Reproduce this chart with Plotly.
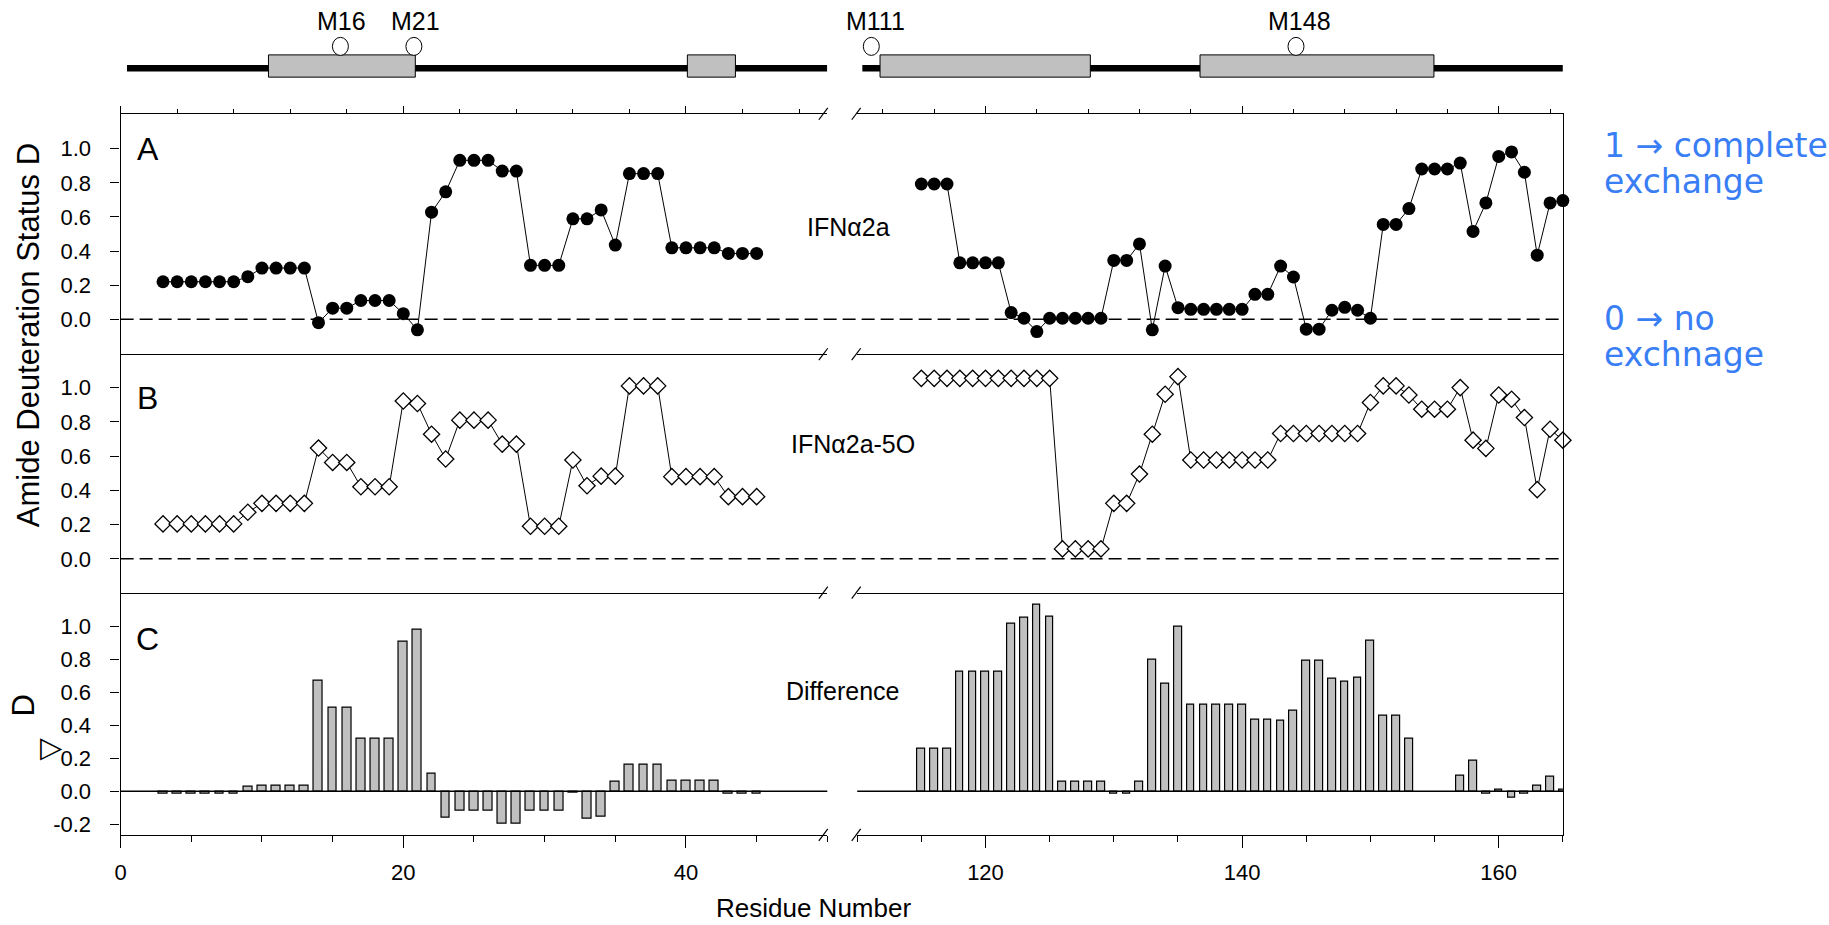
import plotly.graph_objects as go

W, H = 1829, 925


def px_x(p):
    return p / W


def px_y(p):
    return 1 - p / H


# ---------------- data ----------------
res_left = list(range(3, 46))
res_right = list(range(115, 166))

# IFNa2a deuteration status
d_wt_left = [0.22, 0.22, 0.22, 0.22, 0.22, 0.22, 0.25, 0.30, 0.30, 0.30, 0.30,
             -0.02, 0.065, 0.065, 0.11, 0.11, 0.11, 0.033, -0.062, 0.628, 0.747,
             0.932, 0.932, 0.932, 0.869, 0.869, 0.316, 0.316, 0.316, 0.589, 0.589,
             0.641, 0.435, 0.854, 0.854, 0.854, 0.419, 0.419, 0.419, 0.419,
             0.386, 0.386, 0.386]
d_wt_right = [0.793, 0.793, 0.793, 0.331, 0.331, 0.331, 0.331, 0.039, 0.006, -0.072,
              0.006, 0.006, 0.006, 0.006, 0.006, 0.345, 0.345, 0.442, -0.062, 0.312,
              0.068, 0.058, 0.058, 0.058, 0.058, 0.058, 0.146, 0.146, 0.312, 0.248,
              -0.058, -0.058, 0.053, 0.07, 0.053, 0.006, 0.556, 0.556, 0.649, 0.881,
              0.881, 0.881, 0.916, 0.515, 0.682, 0.955, 0.981, 0.862, 0.376, 0.682,
              0.696]

# IFNa2a-5O deuteration status
d_5o_left = [0.204, 0.204, 0.204, 0.204, 0.204, 0.204, 0.272, 0.324, 0.324, 0.324,
             0.324, 0.647, 0.563, 0.563, 0.421, 0.421, 0.421, 0.922, 0.907, 0.728,
             0.583, 0.810, 0.810, 0.810, 0.670, 0.670, 0.190, 0.190, 0.190, 0.577,
             0.427, 0.483, 0.483, 1.01, 1.01, 1.01, 0.480, 0.480, 0.480, 0.480,
             0.363, 0.363, 0.363]
d_5o_right = [1.054, 1.054, 1.054, 1.054, 1.054, 1.054, 1.054, 1.054, 1.054, 1.054,
              1.054, 0.058, 0.058, 0.058, 0.058, 0.324, 0.324, 0.495, 0.728, 0.961,
              1.064, 0.577, 0.577, 0.577, 0.577, 0.577, 0.577, 0.577, 0.732, 0.732,
              0.732, 0.732, 0.732, 0.732, 0.732, 0.913, 1.01, 1.01, 0.957, 0.874,
              0.874, 0.874, 1.0, 0.693, 0.645, 0.957, 0.932, 0.825, 0.404, 0.757,
              0.693]

# Difference (delta D)
diff_left = [-0.012, -0.012, -0.012, -0.012, -0.012, -0.012, 0.026, 0.032, 0.032,
             0.032, 0.032, 0.673, 0.506, 0.506, 0.319, 0.319, 0.319, 0.905, 0.982,
             0.105, -0.157, -0.117, -0.117, -0.117, -0.194, -0.194, -0.119, -0.119,
             -0.119, -0.006, -0.163, -0.155, 0.058, 0.161, 0.161, 0.161, 0.065,
             0.065, 0.065, 0.065, -0.016, -0.016, -0.016]
diff_right = [0.26, 0.26, 0.26, 0.726, 0.726, 0.726, 0.726, 1.018, 1.054, 1.133,
              1.058, 0.06, 0.06, 0.06, 0.06, -0.016, -0.016, 0.06, 0.798, 0.653,
              1.0, 0.526, 0.526, 0.526, 0.526, 0.526, 0.437, 0.437, 0.43, 0.488,
              0.794, 0.794, 0.683, 0.663, 0.69, 0.915, 0.46, 0.46, 0.317, None,
              None, None, 0.095, 0.188, -0.016, 0.012, -0.038, -0.016, 0.032,
              0.087, 0.008]

# secondary-structure map (helix spans, residue units) and methionine sites
helix_left = [(10.46, 20.85), (40.1, 43.5)]
helix_right = [(111.78, 128.17), (136.72, 154.95)]
met_left = [(15.55, "M16"), (20.75, "M21")]
met_right = [(111.1, "M111"), (144.2, "M148")]

y_ticks = [0.0, 0.2, 0.4, 0.6, 0.8, 1.0]
y_ticks_c = [-0.2, 0.0, 0.2, 0.4, 0.6, 0.8, 1.0]

# ---------------- layout geometry ----------------
LEFT = [px_x(115), px_x(824)]
RIGHT = [px_x(854), px_x(1562)]
ROW_A = [px_y(355), px_y(114)]
ROW_B = [px_y(594), px_y(355)]
ROW_C = [px_y(836.7), px_y(594)]
RANGE_L = [0, 50]
RANGE_R = [110, 165]
RANGE_A = [-0.205, 1.205]
RANGE_B = [-0.198, 1.195]
RANGE_C = [-0.264, 1.204]

FONT = "Liberation Sans, Arial, sans-serif"

fig = go.Figure()

line_kw = dict(color="black", width=1)
circ = dict(symbol="circle", size=13, color="black", line=dict(width=0))
diam = dict(symbol="diamond", size=12.5, color="white", line=dict(color="black", width=1.3))

fig.add_trace(go.Scatter(x=res_left, y=d_wt_left, mode="lines+markers", line=line_kw,
                         marker=circ, xaxis="x", yaxis="y", cliponaxis=False))
fig.add_trace(go.Scatter(x=res_right, y=d_wt_right, mode="lines+markers", line=line_kw,
                         marker=circ, xaxis="x2", yaxis="y2", cliponaxis=False))
fig.add_trace(go.Scatter(x=res_left, y=d_5o_left, mode="lines+markers", line=line_kw,
                         marker=diam, xaxis="x3", yaxis="y3", cliponaxis=False))
fig.add_trace(go.Scatter(x=res_right, y=d_5o_right, mode="lines+markers", line=line_kw,
                         marker=diam, xaxis="x4", yaxis="y4", cliponaxis=False))

bar_marker = dict(color="#c0c0c0", line=dict(color="black", width=1.2))
fig.add_trace(go.Bar(x=res_left, y=diff_left, width=0.62, marker=bar_marker,
                     xaxis="x5", yaxis="y5"))
fig.add_trace(go.Bar(x=res_right, y=diff_right, width=0.6, marker=bar_marker,
                     xaxis="x6", yaxis="y6", cliponaxis=False))

frame = dict(showline=True, linecolor="black", linewidth=1.3, showgrid=False,
             zeroline=False)
tickfont = dict(family=FONT, size=22, color="black")

top_ticks = dict(ticks="outside", ticklen=7, tickwidth=1.3, tickcolor="black",
                 tick0=0, dtick=20, showticklabels=False,
                 minor=dict(ticks="outside", ticklen=4, tickwidth=1, tickcolor="black",
                            tick0=0, dtick=4))
bottom_ticks = dict(ticks="outside", ticklen=12, tickwidth=1.3, tickcolor="black",
                    tick0=0, dtick=20, tickfont=tickfont, ticklabelstandoff=6,
                    minor=dict(ticks="outside", ticklen=6, tickwidth=1.1,
                               tickcolor="black", tick0=0, dtick=5))
plain_x = dict(ticks="", showticklabels=False)

left_y = dict(ticks="outside", ticklen=9, tickwidth=1.3, tickcolor="black",
              tickmode="array", tickfont=tickfont, ticklabelstandoff=15, side="left")
right_y = dict(ticks="", showticklabels=False, side="right")

# panel A draws its top and bottom frame lines; B and C only their bottom lines,
# so every boundary between panels is a single thin line
fig.update_layout(
    width=W, height=H, margin=dict(l=0, r=0, t=0, b=0),
    paper_bgcolor="white", plot_bgcolor="white", showlegend=False,
    bargap=0,
    xaxis=dict(domain=LEFT, range=RANGE_L, anchor="y", side="top", mirror=True,
               **frame, **top_ticks),
    xaxis2=dict(domain=RIGHT, range=RANGE_R, anchor="y2", side="top", mirror=True,
                **frame, **top_ticks),
    xaxis3=dict(domain=LEFT, range=RANGE_L, anchor="y3", side="bottom", **frame, **plain_x),
    xaxis4=dict(domain=RIGHT, range=RANGE_R, anchor="y4", side="bottom", **frame, **plain_x),
    xaxis5=dict(domain=LEFT, range=RANGE_L, anchor="y5", side="bottom",
                **frame, **bottom_ticks),
    xaxis6=dict(domain=RIGHT, range=RANGE_R, anchor="y6", side="bottom",
                **frame, **bottom_ticks),
    yaxis=dict(domain=ROW_A, range=RANGE_A, anchor="x", tickvals=y_ticks,
               ticktext=[f"{v:.1f}" for v in y_ticks], **frame, **left_y),
    yaxis2=dict(domain=ROW_A, range=RANGE_A, anchor="x2", **frame, **right_y),
    yaxis3=dict(domain=ROW_B, range=RANGE_B, anchor="x3", tickvals=y_ticks,
                ticktext=[f"{v:.1f}" for v in y_ticks], **frame, **left_y),
    yaxis4=dict(domain=ROW_B, range=RANGE_B, anchor="x4", **frame, **right_y),
    yaxis5=dict(domain=ROW_C, range=RANGE_C, anchor="x5", tickvals=y_ticks_c,
                ticktext=[f"{v:.1f}" for v in y_ticks_c], **frame, **left_y),
    yaxis6=dict(domain=ROW_C, range=RANGE_C, anchor="x6", **frame, **right_y),
)

shapes = []

# dashed zero reference in panels A and B (spans the axis break)
for yref in ("y", "y3"):
    shapes.append(dict(type="line", xref="paper", yref=yref, x0=LEFT[0], x1=RIGHT[1],
                       y0=0, y1=0, line=dict(color="black", width=1.5, dash="13px,6px")))

# solid zero baseline of the difference bars
for xr, yr in (("x5 domain", "y5"), ("x6 domain", "y6")):
    shapes.append(dict(type="line", xref=xr, yref=yr, x0=0, x1=1, y0=0, y1=0,
                       line=dict(color="black", width=1.5)))

# break marks on every horizontal frame line
for yy in (114, 355, 594, 836.7):
    for xx in (820, 853):
        shapes.append(dict(type="line", xref="paper", yref="paper",
                           x0=px_x(xx - 4.5), y0=px_y(yy + 6),
                           x1=px_x(xx + 4.5), y1=px_y(yy - 6),
                           line=dict(color="black", width=1.2)))

# secondary-structure map above the plot
MAP_LINE_Y = px_y(68.3)
BOX_Y = (px_y(77.3), px_y(55))
CIRCLE_Y = px_y(46.5)
LABEL_Y = px_y(20.7)

for xref, (x_start, x_end), helices, mets in (
        ("x", (0.45, 50), helix_left, met_left),
        ("x2", (110.4, 165), helix_right, met_right)):
    shapes.append(dict(type="line", xref=xref, yref="paper", x0=x_start, x1=x_end,
                       y0=MAP_LINE_Y, y1=MAP_LINE_Y,
                       line=dict(color="black", width=6.5)))
    for h0, h1 in helices:
        shapes.append(dict(type="rect", xref=xref, yref="paper", x0=h0, x1=h1,
                           y0=BOX_Y[0], y1=BOX_Y[1], fillcolor="#c0c0c0",
                           line=dict(color="black", width=1)))
    for mx, _ in mets:
        shapes.append(dict(type="circle", xref=xref, yref="paper",
                           xsizemode="pixel", ysizemode="pixel",
                           xanchor=mx, yanchor=CIRCLE_Y,
                           x0=-8, x1=8, y0=-9, y1=9,
                           fillcolor="white", line=dict(color="black", width=1)))

fig.update_layout(shapes=shapes)

ann = []
for xref, mets in (("x", met_left), ("x2", met_right)):
    for mx, name in mets:
        ann.append(dict(text=name, xref=xref, yref="paper", x=mx + (0.3 if xref == "x2" else 0.1),
                        y=LABEL_Y, showarrow=False, xanchor="center", yanchor="middle",
                        font=dict(family=FONT, size=25, color="black")))

# panel letters
for letter, yy in (("A", 149), ("B", 399), ("C", 640)):
    ann.append(dict(text=letter, xref="paper", yref="paper", x=px_x(142), y=px_y(yy),
                    showarrow=False, xanchor="center", yanchor="middle",
                    font=dict(family=FONT, size=32, color="black")))

# panel captions
for txt, xx, yy in (("IFNα2a", 845, 227), ("IFNα2a-5O", 849.6, 445),
                    ("Difference", 839.5, 692)):
    ann.append(dict(text=txt, xref="paper", yref="paper", x=px_x(xx), y=px_y(yy),
                    showarrow=False, xanchor="center", yanchor="middle",
                    font=dict(family=FONT, size=25, color="black")))

# axis titles
ann.append(dict(text="Amide Deuteration Status D", xref="paper", yref="paper",
                x=px_x(22), y=px_y(336), textangle=-90, showarrow=False,
                xanchor="center", yanchor="middle",
                font=dict(family=FONT, size=31, color="black")))
ann.append(dict(text="D", xref="paper", yref="paper", x=px_x(18), y=px_y(707),
                textangle=-90, showarrow=False, xanchor="center", yanchor="middle",
                font=dict(family=FONT, size=31, color="black")))
ann.append(dict(text="▷", xref="paper", yref="paper", x=px_x(46), y=px_y(749),
                showarrow=False, xanchor="center", yanchor="middle",
                font=dict(family="DejaVu Sans, sans-serif", size=29, color="black")))
ann.append(dict(text="Residue Number", xref="paper", yref="paper", x=px_x(810),
                y=px_y(910), showarrow=False, xanchor="center", yanchor="middle",
                font=dict(family=FONT, size=26, color="black")))

# explanatory notes on the right
BLUE = "#3a7ef5"
for txt, yy in (("1 → complete", 146), ("exchange", 182),
                ("0 → no", 319), ("exchnage", 355)):
    ann.append(dict(text=txt, xref="paper", yref="paper", x=px_x(1601), y=px_y(yy),
                    showarrow=False, xanchor="left", yanchor="middle",
                    font=dict(family="DejaVu Sans, sans-serif", size=33, color=BLUE)))

fig.update_layout(annotations=ann)

fig.write_html("out.html")
